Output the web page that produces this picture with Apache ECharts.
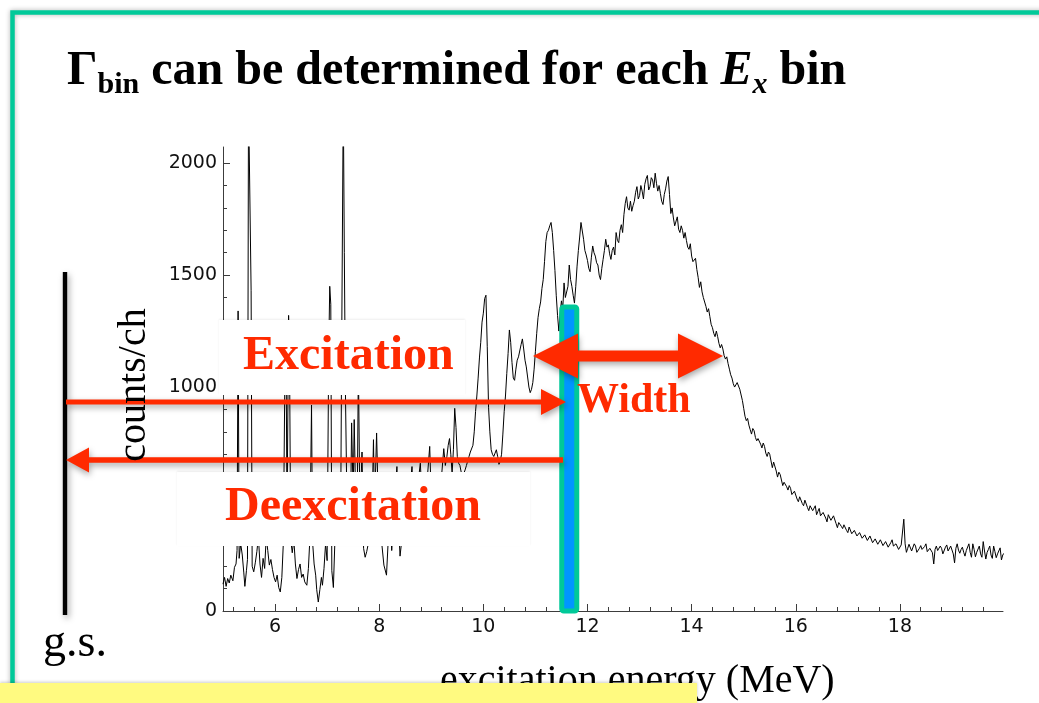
<!DOCTYPE html>
<html>
<head>
<meta charset="utf-8">
<script src="https://cdn.jsdelivr.net/npm/echarts@6/dist/echarts.min.js"></script>
<style>
  html, body { margin: 0; padding: 0; background: #fff; }
  #chart { width: 1039px; height: 703px; }
</style>
</head>
<body>
<div id="chart"></div>
<script>
// Spectrum below ~9.3 MeV: irregular channels (spiky, low-statistics region)
const lowEnergy = [
  5.00, 5.03, 5.06, 5.09, 5.12, 5.15, 5.19, 5.22, 5.25, 5.27,
  5.29, 5.31, 5.34, 5.37, 5.40, 5.42, 5.45, 5.47, 5.49, 5.52,
  5.54, 5.56, 5.59, 5.62, 5.65, 5.68, 5.71, 5.74, 5.77, 5.80,
  5.83, 5.86, 5.89, 5.92, 5.95, 5.98, 6.01, 6.04, 6.07, 6.10,
  6.13, 6.16, 6.19, 6.21, 6.23, 6.26, 6.28, 6.30, 6.33, 6.36,
  6.39, 6.42, 6.45, 6.48, 6.51, 6.54, 6.57, 6.61, 6.64, 6.67,
  6.70, 6.72, 6.75, 6.78, 6.80, 6.83, 6.86, 6.89, 6.91, 6.94,
  6.97, 7.00, 7.03, 7.05, 7.07, 7.09, 7.12, 7.15, 7.19, 7.23,
  7.26, 7.28, 7.31, 7.33, 7.35, 7.38, 7.42, 7.45, 7.47, 7.50,
  7.52, 7.55, 7.58, 7.60, 7.63, 7.67, 7.70, 7.73, 7.76, 7.79,
  7.83, 7.87, 7.89, 7.91, 7.95, 7.98, 8.02, 8.05, 8.09, 8.14,
  8.17, 8.21, 8.24, 8.28, 8.34, 8.37, 8.40, 8.44, 8.50, 8.57,
  8.63, 8.66, 8.72, 8.79, 8.83, 8.90, 8.97, 9.00, 9.05, 9.10,
  9.15, 9.20, 9.24, 9.27
];
const lowCounts = [
  120, 150, 110, 145, 125, 160, 135, 195, 210, 270,
  1340, 235, 300, 250, 170, 110, 180, 230, 2300, 2300,
  1430, 200, 175, 215, 265, 330, 210, 150, 235, 190,
  330, 270, 205, 230, 185, 150, 130, 160, 105, 85,
  150, 310, 1100, 1200, 420, 1320, 1050, 320, 260, 320,
  210, 145, 185, 210, 150, 165, 130, 115, 190, 330,
  920, 310, 210, 160, 95, 40, 95, 150, 115, 190,
  300, 225, 1150, 1450, 1370, 180, 105, 320, 460, 520,
  430, 1200, 2300, 1600, 1000, 480, 530, 440, 840, 510,
  855, 470, 530, 1100, 440, 710, 280, 240, 265, 300,
  480, 530, 765, 450, 795, 500, 410, 300, 205, 160,
  300, 455, 270, 430, 645, 400, 245, 330, 455, 505,
  645, 480, 520, 660, 470, 520, 735, 500, 470, 530,
  560, 610, 725, 650
];

// Main spectrum: channels of 0.025 MeV starting at 9.30 MeV
const mainStart = 9.30;
const mainStep = 0.025;
const mainCounts = [
  690, 740, 770, 700, 615, 720, 905, 820, 690, 660,
  650, 620, 600, 615, 630, 650, 645, 690, 710, 705,
  740, 800, 890, 960, 1040, 1130, 1200, 1290, 1330, 1395,
  1410, 1180, 910, 800, 720, 700, 690, 705, 720, 690,
  655, 670, 700, 790, 890, 960, 1060, 1150, 1255, 1200,
  1110, 1040, 1030, 1080, 1120, 1135, 1140, 1190, 1215, 1170,
  1120, 1090, 1045, 1000, 975, 990, 1020, 1080, 1160, 1240,
  1310, 1350, 1380, 1440, 1480, 1560, 1650, 1690, 1700, 1720,
  1735, 1690, 1610, 1520, 1410, 1320, 1250, 1330, 1385, 1350,
  1465, 1400, 1395, 1450, 1545, 1480, 1450, 1410, 1375, 1450,
  1540, 1610, 1670, 1735, 1740, 1660, 1610, 1590, 1565, 1530,
  1515, 1580, 1630, 1600, 1585, 1555, 1545, 1500, 1480, 1530,
  1570, 1610, 1660, 1625, 1635, 1595, 1570, 1610, 1625, 1590,
  1690, 1655, 1645, 1700, 1725, 1690, 1770, 1820, 1850, 1800,
  1790, 1830, 1785, 1810, 1830, 1870, 1895, 1840, 1855, 1900,
  1875, 1840, 1905, 1930, 1945, 1880, 1895, 1935, 1925, 1890,
  1955, 1910, 1875, 1900, 1865, 1830, 1815, 1860, 1885, 1920,
  1940, 1860, 1775, 1800, 1755, 1720, 1725, 1760, 1705, 1690,
  1720, 1700, 1665, 1690, 1655, 1625, 1615, 1640, 1585, 1560,
  1555, 1575, 1525, 1490, 1445, 1470, 1425, 1400, 1395, 1360,
  1335, 1350, 1315, 1280, 1265, 1240, 1225, 1250, 1225, 1195,
  1175, 1190, 1170, 1140, 1125, 1135, 1105, 1080, 1055, 1040,
  1015, 1000, 995, 1020, 1025, 990, 985, 940, 905, 870,
  850, 860, 830, 810, 790, 815, 805, 775, 760, 770,
  770, 745, 728, 750, 735, 705, 690, 710, 700, 670,
  640, 665, 662, 625, 598, 620, 610, 585, 560, 575,
  582, 555, 540, 560, 548, 520, 512, 535, 530, 500,
  488, 510, 508, 480, 470, 495, 490, 462, 448, 470,
  470, 448, 455, 470, 430, 445, 458, 425, 420, 440,
  445, 415, 398, 430, 430, 405, 405, 425, 418, 390,
  372, 395, 400, 378, 368, 385, 390, 360, 350, 375,
  372, 345, 338, 360, 360, 335, 330, 350, 352, 325,
  318, 340, 340, 315, 312, 335, 338, 305, 302, 322,
  325, 298, 296, 318, 322, 292, 290, 310, 312, 285,
  278, 305, 318, 290, 284, 300, 305, 275, 270, 295,
  300, 410, 300, 262, 280, 298, 290, 268, 275, 300,
  290, 262, 255, 280, 292, 275, 270, 288, 300, 265,
  258, 280, 285, 260, 210, 275, 290, 270, 262, 290,
  280, 255, 250, 285, 295, 268, 265, 290, 282, 255,
  215, 280, 300, 272, 258, 275, 285, 262, 245, 270,
  278, 300, 262, 240, 300, 275, 242, 262, 270, 290,
  255, 240, 310, 268, 232, 262, 275, 290, 250, 235,
  290, 265, 238, 255, 262, 282, 228, 250, 258
];

// Axis ticks
const xMajorTicks = [6, 8, 10, 12, 14, 16, 18];
const xMinorTicks = [5.2, 5.6, 6.4, 6.8, 7.2, 7.6, 8.4, 8.8, 9.2, 9.6, 10.4, 10.8, 11.2, 11.6,
  12.4, 12.8, 13.2, 13.6, 14.4, 14.8, 15.2, 15.6, 16.4, 16.8, 17.2, 17.6, 18.4, 18.8, 19.2, 19.6];
const yMajorTicks = [0, 500, 1000, 1500, 2000];
const yMinorTicks = [100, 200, 300, 400, 600, 700, 800, 900, 1100, 1200, 1300, 1400,
  1600, 1700, 1800, 1900];

// Highlighted E_x bin
const binEnergy = 11.65;
const binTopCounts = 1358;

const spectrum = lowEnergy.map((e, i) => [e, lowCounts[i]])
  .concat(mainCounts.map((v, i) => [+(mainStart + i * mainStep).toFixed(3), v]));

const AXIS_COLOR = '#3c3c3c';
const SANS = "'DejaVu Sans', sans-serif";
const SERIF = "'Liberation Serif', 'Times New Roman', serif";
const RED = '#ff2a00';
const TEAL = '#00c999';
const BLUE = '#0096ff';

const chart = echarts.init(document.getElementById('chart'), null, { renderer: 'canvas' });

const xBase = {
  type: 'value', min: 5, max: 19.98, position: 'bottom',
  splitLine: { show: false }
};
const yBase = {
  type: 'value', min: 0, max: 2072, position: 'left',
  splitLine: { show: false }
};
const plain = (v) => String(v);

chart.setOption({
  animation: false,
  backgroundColor: '#ffffff',
  grid: { left: 223, right: 36, top: 147, bottom: 92, outerBoundsMode: 'none' },
  xAxis: [
    Object.assign({}, xBase, {
      axisLine: { show: true, lineStyle: { color: AXIS_COLOR, width: 1 } },
      axisTick: { show: true, inside: true, length: 7, customValues: xMajorTicks,
        lineStyle: { color: AXIS_COLOR, width: 1 } },
      axisLabel: { show: true, customValues: xMajorTicks, margin: 7, formatter: plain,
        fontFamily: SANS, fontSize: 19, color: '#111' }
    }),
    Object.assign({}, xBase, {
      axisLine: { show: false },
      axisTick: { show: true, inside: true, length: 4, customValues: xMinorTicks,
        lineStyle: { color: AXIS_COLOR, width: 1 } },
      axisLabel: { show: false }
    })
  ],
  yAxis: [
    Object.assign({}, yBase, {
      axisLine: { show: true, lineStyle: { color: AXIS_COLOR, width: 1 } },
      axisTick: { show: true, inside: true, length: 7, customValues: yMajorTicks,
        lineStyle: { color: AXIS_COLOR, width: 1 } },
      axisLabel: { show: true, customValues: yMajorTicks, margin: 6, formatter: plain,
        fontFamily: SANS, fontSize: 19, color: '#111' }
    }),
    Object.assign({}, yBase, {
      axisLine: { show: false },
      axisTick: { show: true, inside: true, length: 4, customValues: yMinorTicks,
        lineStyle: { color: AXIS_COLOR, width: 1 } },
      axisLabel: { show: false }
    })
  ],
  series: [{
    type: 'line',
    xAxisIndex: 0,
    yAxisIndex: 0,
    data: spectrum,
    symbol: 'none',
    showSymbol: false,
    clip: true,
    lineStyle: { color: '#000', width: 1 },
    z: 2
  }]
});

// Arrow outline as polygon points (single or double headed)
function arrowPoints(xFrom, xTo, y, shaft, headLen, headHalf, both) {
  const dir = Math.sign(xTo - xFrom);
  const baseR = xTo - dir * headLen;
  if (both) {
    const baseL = xFrom + dir * headLen;
    return [[xFrom, y], [baseL, y - headHalf], [baseL, y - shaft], [baseR, y - shaft],
      [baseR, y - headHalf], [xTo, y], [baseR, y + headHalf], [baseR, y + shaft],
      [baseL, y + shaft], [baseL, y + headHalf]];
  }
  return [[xFrom, y - shaft], [baseR, y - shaft], [baseR, y - headHalf], [xTo, y],
    [baseR, y + headHalf], [baseR, y + shaft], [xFrom, y + shaft]];
}

const arrowStyle = {
  fill: RED,
  shadowColor: 'rgba(0,0,0,0.35)', shadowBlur: 6, shadowOffsetX: 1, shadowOffsetY: 3
};
const boxStyle = {
  fill: '#ffffff', shadowColor: 'rgba(0,0,0,0.07)', shadowBlur: 2, shadowOffsetY: -1
};

function label(text, x, y, size, color, weight, extra) {
  return Object.assign({
    type: 'text', x: x, y: y, silent: true, z: 120,
    style: {
      text: text, fill: color, fontFamily: SERIF, fontSize: size, fontWeight: weight,
      align: 'left', verticalAlign: 'middle', textAlign: 'left', textVerticalAlign: 'middle'
    }
  }, extra || {});
}

const pBase = chart.convertToPixel({ xAxisIndex: 0, yAxisIndex: 0 }, [binEnergy, 0]);
const pTop = chart.convertToPixel({ xAxisIndex: 0, yAxisIndex: 0 }, [binEnergy, binTopCounts]);

chart.setOption({
  graphic: {
    elements: [
      // slide frame
      { type: 'rect', silent: true, z: 90,
        shape: { x: 12.5, y: 12.5, width: 1100, height: 800 },
        style: { fill: null, stroke: TEAL, lineWidth: 4.5,
          shadowColor: 'rgba(0,0,0,0.3)', shadowBlur: 5 } },
      // title
      { type: 'text', x: 67, y: 44, silent: true, z: 120,
        style: {
          text: '{g|Γ}{s|bin}{g| can be determined for each }{e|E}{es|x}{g| bin}',
          align: 'left', verticalAlign: 'top', textAlign: 'left', textVerticalAlign: 'top',
          rich: {
            g: { fontFamily: SERIF, fontWeight: 'bold', fontSize: 48, lineHeight: 56, fill: '#000', color: '#000' },
            s: { fontFamily: SERIF, fontWeight: 'bold', fontSize: 30, lineHeight: 40, verticalAlign: 'bottom', fill: '#000', color: '#000' },
            e: { fontFamily: SERIF, fontWeight: 'bold', fontStyle: 'italic', fontSize: 48, lineHeight: 56, fill: '#000', color: '#000' },
            es: { fontFamily: SERIF, fontWeight: 'bold', fontStyle: 'italic', fontSize: 30, lineHeight: 40, verticalAlign: 'bottom', fill: '#000', color: '#000' }
          }
        } },
      // text panels over the spectrum
      { type: 'rect', silent: true, z: 100, shape: { x: 219, y: 320, width: 246, height: 75 }, style: boxStyle },
      { type: 'rect', silent: true, z: 100, shape: { x: 177, y: 472, width: 353, height: 74 }, style: boxStyle },
      // selected bin
      { type: 'rect', silent: true, z: 105,
        shape: { x: pBase[0] - 7.5, y: pTop[1], width: 15, height: pBase[1] - pTop[1], r: 2 },
        style: { fill: BLUE, stroke: TEAL, lineWidth: 5 } },
      // ground state level
      { type: 'rect', silent: true, z: 105,
        shape: { x: 62.8, y: 272, width: 4.4, height: 343 },
        style: { fill: '#000', shadowColor: 'rgba(0,0,0,0.35)', shadowBlur: 6, shadowOffsetX: 2, shadowOffsetY: 3 } },
      // arrows
      { type: 'polygon', silent: true, z: 110, shape: { points: arrowPoints(66, 566, 402, 2.6, 25, 13, false) }, style: arrowStyle },
      { type: 'polygon', silent: true, z: 110, shape: { points: arrowPoints(563, 66, 460, 2.8, 23, 12.5, false) }, style: arrowStyle },
      { type: 'polygon', silent: true, z: 110, shape: { points: arrowPoints(533, 723, 356, 5.5, 45, 22.5, true) }, style: arrowStyle },
      // annotation text
      label('Excitation', 243, 357, 48, RED, 'bold'),
      label('Deexcitation', 225, 508, 48, RED, 'bold'),
      label('Width', 577, 401, 42, RED, 'bold'),
      label('g.s.', 43, 644, 46, '#000', 'normal'),
      // axis titles
      label('excitation energy (MeV)', 440, 681, 40, '#000', 'normal'),
      { type: 'text', x: 134, y: 385, rotation: Math.PI / 2, silent: true, z: 120,
        style: { text: 'counts/ch', fill: '#000', fontFamily: SERIF, fontSize: 40,
          align: 'center', verticalAlign: 'middle', textAlign: 'center', textVerticalAlign: 'middle' } },
      // note box along the bottom edge
      { type: 'rect', silent: true, z: 130,
        shape: { x: 0, y: 683, width: 697, height: 30 },
        style: { fill: '#fffa80', shadowColor: 'rgba(0,0,0,0.2)', shadowBlur: 3, shadowOffsetY: -1 } }
    ]
  }
});
</script>
</body>
</html>
